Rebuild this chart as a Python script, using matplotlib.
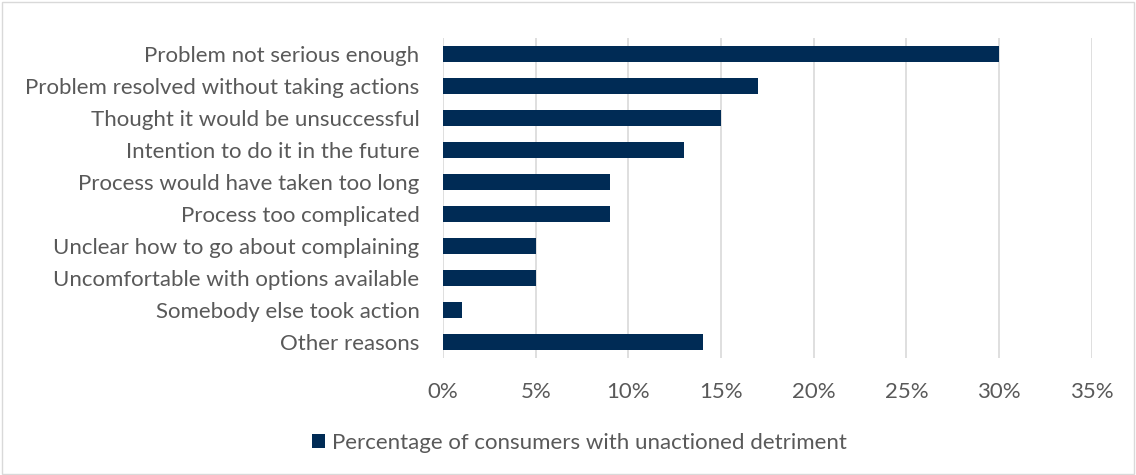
import matplotlib.pyplot as plt
from matplotlib.ticker import PercentFormatter

# Reasons for not taking action
reasons = [
    "Problem not serious enough",
    "Problem resolved without taking actions",
    "Thought it would be unsuccessful",
    "Intention to do it in the future",
    "Process would have taken too long",
    "Process too complicated",
    "Unclear how to go about complaining",
    "Uncomfortable with options available",
    "Somebody else took action",
    "Other reasons",
]
share = [30, 17, 15, 13, 9, 9, 5, 5, 1, 14]
series_name = "Percentage of consumers with unactioned detriment"

navy = "#002B55"
grey_text = "#595959"

plt.rcParams["font.family"] = ["Lato", "DejaVu Sans"]

fig = plt.figure(figsize=(11.36, 4.75), dpi=100)
ax = fig.add_axes([0.39, 0.246, 0.571, 0.674])

y = list(range(len(reasons)))
ax.barh(y, share, height=0.5, color=navy, label=series_name, zorder=3)
ax.set_ylim(len(reasons) - 0.5, -0.5)

ax.set_xlim(0, 35)
ax.set_xticks(range(0, 36, 5))
ax.xaxis.set_major_formatter(PercentFormatter(decimals=0))
ax.set_yticks(y)
ax.set_yticklabels(reasons)

ax.grid(axis="x", color="#D9D9D9", linewidth=1.2, zorder=0)
for s in ax.spines.values():
    s.set_visible(False)
ax.tick_params(axis="both", length=0, labelsize=16, colors=grey_text)
ax.tick_params(axis="y", pad=17)
ax.tick_params(axis="x", pad=17)

fig.legend(loc="center", bbox_to_anchor=(0.51, 0.068), frameon=False,
           fontsize=16, labelcolor=grey_text, handlelength=0.6,
           handleheight=0.6, handletextpad=0.3)

border = plt.Rectangle((0.002, 0.002), 0.996, 0.994, transform=fig.transFigure,
                       fill=False, edgecolor="#D9D9D9", linewidth=1)
fig.patches.append(border)

fig.savefig("out.png", dpi=100)
